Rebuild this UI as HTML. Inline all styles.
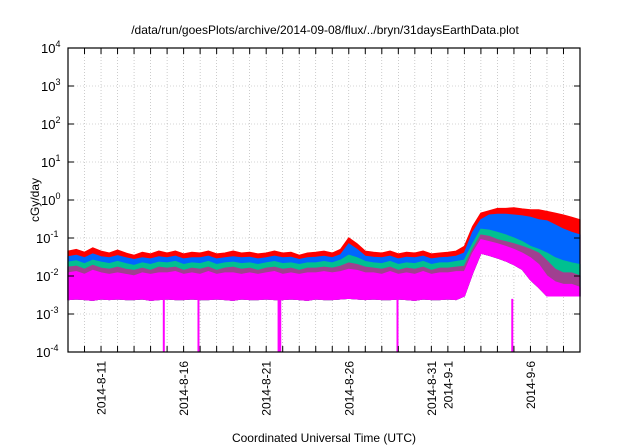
<!DOCTYPE html>
<html><head><meta charset="utf-8"><style>
body{margin:0;background:#fff}
svg{display:block;font-family:"Liberation Sans",sans-serif}
</style></head><body>
<svg id="chart" width="640" height="448">
<text x="325" y="34" text-anchor="middle" font-size="12">/data/run/goesPlots/archive/2014-09-08/flux/../bryn/31daysEarthData.plot</text>
<text transform="translate(39,200) rotate(-90)" text-anchor="middle" font-size="12">cGy/day</text>
<text x="324" y="442" text-anchor="middle" font-size="12">Coordinated Universal Time (UTC)</text>
<g id="grid"></g><g id="series"></g><g id="axes"></g>
</svg>
<script>
const yDecades=[-4,-3,-2,-1,0,1,2,3,4];
const xTickLabels=["2014-8-11","2014-8-16","2014-8-21","2014-8-26","2014-8-31","2014-9-1","2014-9-6"];
const xTickLabelDays=[2,7,12,17,22,23,28];
const numDays=31;
const redTop=[.045,.05,.042,.055,.045,.04,.048,.04,.035,.042,.038,.045,
.04,.045,.038,.042,.04,.045,.038,.04,.045,.04,.042,.038,
.04,.045,.04,.042,.035,.04,.042,.045,.04,.05,
.1,.07,
.045,.042,.04,.045,.038,.042,.04,.045,.038,.04,.042,.045,
.06,.2,.45,.52,.6,.6,.62,.58,.55,.55,.5,.45,.4,.35,.3];
const blueTop=[.032,.035,.03,.038,.032,.03,.034,.03,.027,.03,.028,.032,
.03,.033,.028,.03,.03,.033,.028,.03,.032,.03,.031,.028,
.03,.033,.03,.031,.027,.03,.031,.033,.03,.036,
.07,.05,
.033,.031,.03,.033,.028,.031,.03,.033,.028,.03,.031,.033,
.04,.14,.3,.4,.42,.42,.4,.38,.35,.3,.28,.22,.17,.14,.12];
const tealTop=[.023,.025,.021,.026,.023,.021,.024,.021,.019,.022,.02,.023,
.022,.024,.02,.022,.021,.024,.02,.022,.023,.021,.022,.02,
.022,.024,.021,.022,.02,.022,.022,.024,.022,.026,
.035,.03,
.024,.022,.021,.024,.02,.022,.021,.024,.02,.022,.022,.024,
.026,.07,.17,.16,.14,.12,.1,.08,.06,.05,.04,.03,.025,.022,.02];
const purpleTop=[.017,.018,.015,.019,.016,.015,.017,.015,.014,.016,.014,.017,
.016,.017,.014,.016,.015,.017,.014,.016,.017,.015,.016,.014,
.016,.017,.015,.016,.014,.016,.016,.017,.016,.018,
.022,.02,
.017,.016,.015,.017,.014,.016,.015,.017,.014,.016,.016,.017,
.018,.05,.12,.11,.09,.08,.07,.06,.05,.04,.025,.015,.012,.012,.01];
const magentaTop=[.012,.013,.011,.014,.012,.011,.012,.011,.01,.012,.011,.012,
.012,.013,.011,.012,.011,.013,.011,.012,.012,.011,.012,.011,
.012,.013,.011,.012,.011,.012,.012,.013,.012,.013,
.015,.014,
.012,.012,.011,.013,.011,.012,.011,.013,.011,.012,.012,.013,
.013,.04,.09,.08,.07,.06,.05,.04,.03,.02,.01,.007,.006,.006,.005];
const magentaBottom=[.0024,.0025,.0024,.0023,.0025,.0024,.0025,.0024,.0024,.0025,.0023,.0024,
.0025,.0024,.0024,.0025,.0024,.0024,.0025,.0024,.0023,.0025,.0024,.0024,
.0025,.0024,.0024,.0025,.0024,.0023,.0025,.0024,.0024,.0025,
.0026,.0025,
.0024,.0025,.0024,.0024,.0025,.0024,.0023,.0025,.0024,.0024,.0025,.0024,
.003,.012,.04,.035,.03,.025,.02,.015,.008,.005,.003,.003,.003,.003,.003];
const dropDays=[5.8,7.9,12.75,12.85,19.95,26.9];
const dropValue=0.0001;

const NS="http://www.w3.org/2000/svg";
const L=68,R=580,T=48,B=352;
const xs=d=>L+(d/numDays)*(R-L);
const ys=v=>B-(Math.log10(v)+4)/8*(B-T);
const dayOf=i=>i*0.5;
function mk(tag,attrs,parent){const e=document.createElementNS(NS,tag);for(const k in attrs)e.setAttribute(k,attrs[k]);parent.appendChild(e);return e;}
const grid=document.getElementById('grid'),axes=document.getElementById('axes'),ser=document.getElementById('series');
for(let d=1;d<numDays;d++){
  const g=mk('line',{x1:xs(d),x2:xs(d),y1:T,y2:B,stroke:'#aaa','stroke-width':0.6,'stroke-dasharray':'1,2'},grid);
  
  
}
yDecades.forEach(p=>{
  if(p>-4&&p<4){
    const g=mk('line',{x1:L,x2:R,y1:ys(10**p),y2:ys(10**p),stroke:'#aaa','stroke-width':0.6,'stroke-dasharray':'1,2'},grid);
    
    
  }
});
function band(top,bot,color,name){
  let pts=top.map((v,i)=>xs(dayOf(i))+','+ys(v));
  for(let i=bot.length-1;i>=0;i--)pts.push(xs(dayOf(i))+','+ys(bot[i]));
  const p=mk('polygon',{points:pts.join(' '),fill:color,stroke:color,'stroke-width':1.2},ser);
  
  
}
band(redTop,magentaBottom,'#ff0000','series-red');
band(blueTop,magentaBottom,'#0066ff','series-blue');
band(tealTop,magentaBottom,'#00c090','series-teal');
band(purpleTop,magentaBottom,'#a04090','series-purple');
band(magentaTop,magentaBottom,'#ff00ff','series-magenta');
dropDays.forEach(d=>{
  const l=mk('line',{x1:xs(d),x2:xs(d),y1:ys(0.0025),y2:ys(dropValue),stroke:'#ff00ff','stroke-width':2},ser);
  
  
});
const fr=mk('rect',{x:L,y:T,width:R-L,height:B-T,fill:'none',stroke:'#000','stroke-width':1.2},axes);


for(let d=1;d<numDays;d++){
  const a=mk('line',{x1:xs(d),x2:xs(d),y1:B,y2:B-6,stroke:'#000'},axes);
  
  
  const b=mk('line',{x1:xs(d),x2:xs(d),y1:T,y2:T+6,stroke:'#000'},axes);
  
  
}
xTickLabels.forEach((s,i)=>{
  const x=xs(xTickLabelDays[i]);
  const t=mk('text',{transform:`translate(${x+4.5},361) rotate(-90)`,'text-anchor':'end','font-size':12},axes);
  t.textContent=s;
  
  
});
yDecades.forEach(p=>{
  const y=ys(10**p);
  [[L,L+6],[R,R-6]].forEach(([a,b])=>{
    const l=mk('line',{x1:a,x2:b,y1:y,y2:y,stroke:'#000'},axes);
    
    
  });
  const t=mk('text',{x:60,y:y+5,'text-anchor':'end','font-size':13},axes);
  
  
  t.textContent='10';
  const sp=mk('tspan',{dy:-6,'font-size':9},t);
  sp.textContent=String(p);
  t.setAttribute('text-anchor','start');
  t.setAttribute('x',p<0?36:41);
});
</script>
</body></html>
